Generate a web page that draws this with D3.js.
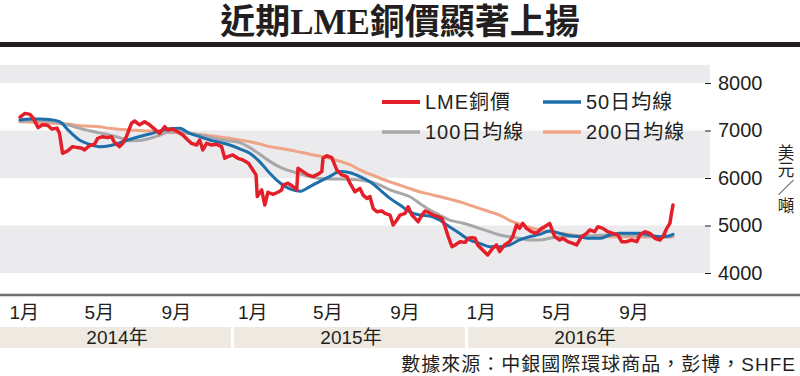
<!DOCTYPE html>
<html>
<head>
<meta charset="utf-8">
<script src="https://cdn.jsdelivr.net/npm/d3@7"></script>
<style>
  body { margin: 0; background: #fff; }
  svg { display: block; }
  text { font-family: "Liberation Sans", "Noto Sans CJK TC", sans-serif; fill: #231f20; }
</style>
</head>
<body>
<svg id="drawing_region"></svg>
<script>
// LME 銅價 (美元/噸) 讀自原圖
const priceDates = [
  "2014-01-02","2014-01-10","2014-01-18","2014-01-23","2014-01-31","2014-02-07","2014-02-15","2014-02-22",
  "2014-03-02","2014-03-06","2014-03-11","2014-03-19","2014-03-27","2014-04-04","2014-04-11","2014-04-15",
  "2014-04-23","2014-05-01","2014-05-06","2014-05-14","2014-05-22","2014-05-28","2014-06-02","2014-06-10",
  "2014-06-15","2014-06-21","2014-06-29","2014-07-04","2014-07-12","2014-07-20","2014-07-28","2014-08-05",
  "2014-08-13","2014-08-21","2014-08-26","2014-09-03","2014-09-11","2014-09-19","2014-09-27","2014-10-03",
  "2014-10-11","2014-10-16","2014-10-21","2014-10-27","2014-11-04","2014-11-12","2014-11-20","2014-11-25",
  "2014-11-30","2014-12-08","2014-12-16","2014-12-24","2015-01-02","2015-01-09","2015-01-14","2015-01-16",
  "2015-01-23","2015-01-28","2015-02-02","2015-02-10","2015-02-18","2015-02-24","2015-02-26","2015-03-06",
  "2015-03-14","2015-03-20","2015-03-22","2015-03-30","2015-04-07","2015-04-15","2015-04-23","2015-04-29",
  "2015-05-01","2015-05-07","2015-05-15","2015-05-23","2015-05-31","2015-06-08","2015-06-13","2015-06-21",
  "2015-06-29","2015-07-04","2015-07-10","2015-07-15","2015-07-20","2015-07-26","2015-08-03","2015-08-08",
  "2015-08-16","2015-08-21","2015-08-27","2015-09-01","2015-09-09","2015-09-14","2015-09-20","2015-09-25",
  "2015-09-30","2015-10-06","2015-10-11","2015-10-16","2015-10-24","2015-11-01","2015-11-07","2015-11-12",
  "2015-11-17","2015-11-23","2015-11-28","2015-12-06","2015-12-14","2015-12-19","2015-12-25","2015-12-30",
  "2016-01-03","2016-01-11","2016-01-19","2016-01-27","2016-02-02","2016-02-07","2016-02-15","2016-02-23",
  "2016-02-28","2016-03-05","2016-03-10","2016-03-15","2016-03-21","2016-03-29","2016-04-06","2016-04-14",
  "2016-04-19","2016-04-27","2016-05-05","2016-05-13","2016-05-18","2016-05-26","2016-06-03","2016-06-09",
  "2016-06-17","2016-06-25","2016-06-30","2016-07-08","2016-07-13","2016-07-21","2016-07-29","2016-08-06",
  "2016-08-14","2016-08-20","2016-08-28","2016-09-05","2016-09-13","2016-09-18","2016-09-26","2016-10-04",
  "2016-10-12","2016-10-20","2016-10-25","2016-10-31","2016-11-05","2016-11-08","2016-11-10"
];
const priceValues = [
  7280,7360,7340,7260,7060,7120,7110,7030,
  7050,6940,6520,6570,6660,6640,6625,6590,
  6680,6710,6835,6870,6850,6870,6750,6660,
  6730,6870,7150,7200,7120,7185,7120,7030,
  6940,7080,7010,7030,6975,6905,6800,6730,
  6695,6800,6590,6730,6695,6710,6660,6415,
  6450,6485,6415,6380,6310,6170,6065,5610,
  5750,5430,5700,5655,5700,5750,5850,5890,
  5820,5750,6205,6135,6065,6030,6080,6135,
  6415,6470,6430,6170,6065,6030,5890,5710,
  5780,5640,5570,5610,5360,5290,5305,5255,
  5220,5010,5115,5220,5255,5395,5220,5150,
  5080,5220,5305,5280,5220,5185,5150,4975,
  4765,4555,4590,4660,4645,4730,4745,4730,
  4590,4485,4380,4520,4590,4450,4590,4660,
  4765,5010,4940,5045,4940,4870,4835,4940,
  4975,5045,4765,4695,4730,4660,4625,4590,
  4765,4835,4905,4870,4975,4940,4870,4835,
  4800,4660,4660,4695,4660,4800,4870,4835,
  4730,4695,4765,4940,5045,5290,5430
];

// 均線 (半月取樣)
const maDates = [
  "2014-01-02","2014-01-18","2014-02-03","2014-02-18","2014-03-06","2014-03-22","2014-04-07","2014-04-23",
  "2014-05-09","2014-05-25","2014-06-10","2014-06-26","2014-07-12","2014-07-28","2014-08-13","2014-08-29",
  "2014-09-14","2014-09-30","2014-10-16","2014-11-01","2014-11-17","2014-12-03","2014-12-19",
  "2015-01-04","2015-01-20","2015-02-05","2015-02-21","2015-03-09","2015-03-25","2015-04-10","2015-04-26",
  "2015-05-12","2015-05-28","2015-06-13","2015-06-29","2015-07-15","2015-07-31","2015-08-16","2015-09-01",
  "2015-09-16","2015-10-02","2015-10-18","2015-11-03","2015-11-19","2015-12-05","2015-12-21",
  "2016-01-06","2016-01-22","2016-02-07","2016-02-23","2016-03-10","2016-03-26","2016-04-11","2016-04-27",
  "2016-05-13","2016-05-29","2016-06-14","2016-06-30","2016-07-16","2016-08-01","2016-08-17","2016-09-02",
  "2016-09-18","2016-10-04","2016-10-20","2016-11-05","2016-11-10"
];
const ma50 = [
  7220,7240,7240,7230,7185,6980,6800,6710,6660,6680,6740,6810,6875,6925,6990,7035,7045,6940,6870,6800,6750,6695,6615,
  6520,6340,6100,5900,5770,5720,5820,5930,6035,6135,6110,6030,5920,5750,5570,5430,5290,5220,5200,5115,4975,4835,4695,
  4625,4555,4555,4590,4695,4765,4815,4885,4835,4785,4765,4730,4730,4800,4835,4835,4835,4800,4765,4785,4815
];
const ma100 = [
  7200,7210,7215,7190,7160,7110,7045,6995,6950,6905,6850,6785,6790,6830,6900,6975,6975,6940,6905,6860,6810,6780,6745,
  6640,6500,6350,6230,6150,6090,6030,5990,5980,5980,5970,5960,5920,5850,5750,5680,5610,5470,5330,5220,5115,5065,5010,
  4940,4870,4800,4765,4730,4695,4695,4730,4765,4775,4780,4785,4795,4800,4800,4795,4785,4775,4765,4765,4785
];
const ma200 = [
  7185,7180,7168,7157,7145,7130,7100,7090,7078,7045,7028,7010,7000,6990,6975,6960,6950,6940,6915,6890,6865,6835,6800,
  6765,6715,6660,6625,6590,6545,6500,6460,6415,6350,6280,6170,6080,5995,5920,5850,5780,5710,5660,5610,5555,5500,5430,
  5360,5290,5220,5110,5030,4960,4905,4870,4835,4810,4785,4775,4765,4765,4765,4762,4760,4758,4755,4760,4765
];

const yTicks = [4000, 5000, 6000, 7000, 8000];
const monthTickDates = ["2014-01-08","2014-05-08","2014-09-08","2015-01-08","2015-05-08","2015-09-08","2016-01-08","2016-05-08","2016-09-08"];
const monthLabels = ["1月","5月","9月","1月","5月","9月","1月","5月","9月"];
const yearLabels = ["2014年","2015年","2016年"];
const seriesNames = ["LME銅價","50日均線","100日均線","200日均線"];
const seriesColors = ["#e3202a","#1d6fac","#a8a8aa","#efa487"];
const unitChars = ["美", "元", "／", "噸"];

const W = 800, H = 376;
const parse = d3.timeParse("%Y-%m-%d");

const svg = d3.select("#drawing_region")
  .attr("width", W)
  .attr("height", H);

svg.append("rect").attr("width", W).attr("height", H).attr("fill", "#fff");

// title
svg.append("text")
  .attr("x", W / 2)
  .attr("y", 34)
  .attr("text-anchor", "middle")
  .attr("font-size", "35px")
  .attr("font-weight", "bold")
  .style("font-family", "'Liberation Serif', 'Noto Sans CJK TC', serif")
  .text("近期LME銅價顯著上揚");

svg.append("rect")
  .attr("x", 0).attr("y", 42)
  .attr("width", W).attr("height", 5)
  .attr("fill", "#231f20");

// scales
const xscale = d3.scaleTime()
  .domain([parse("2014-01-02"), parse("2016-11-10")])
  .range([20, 673]);

const yscale = d3.scaleLinear()
  .domain([4000, 8000])
  .range([273, 83]);

const plotRight = 710;

// grey bands
const bands = [[4000, 5000], [6000, 7000], [8000, 8380]];
svg.append("g").selectAll("rect")
  .data(bands)
  .join("rect")
  .attr("x", 0)
  .attr("width", plotRight)
  .attr("y", d => yscale(d[1]))
  .attr("height", d => yscale(d[0]) - yscale(d[1]))
  .attr("fill", "#ebebed");

// lines
const priceData = priceDates.map((d, i) => ({date: parse(d), value: priceValues[i]}));
const maData = [ma200, ma100, ma50].map(arr => maDates.map((d, i) => ({date: parse(d), value: arr[i]})));

const smoothLine = d3.line()
  .x(d => xscale(d.date))
  .y(d => yscale(d.value))
  .curve(d3.curveMonotoneX);

const rawLine = d3.line()
  .x(d => xscale(d.date))
  .y(d => yscale(d.value));

const lines = svg.append("g").attr("fill", "none").attr("stroke-linejoin", "round").attr("stroke-linecap", "round");

lines.append("path").attr("d", smoothLine(maData[0])).attr("stroke", seriesColors[3]).attr("stroke-width", 3);
lines.append("path").attr("d", smoothLine(maData[1])).attr("stroke", seriesColors[2]).attr("stroke-width", 3);
lines.append("path").attr("d", smoothLine(maData[2])).attr("stroke", seriesColors[1]).attr("stroke-width", 3);
lines.append("path").attr("d", rawLine(priceData)).attr("stroke", seriesColors[0]).attr("stroke-width", 3.5);

// legend
const legendPos = [[382, 102], [543, 102], [382, 132], [543, 132]];
const legend = svg.append("g").selectAll("g")
  .data(seriesNames)
  .join("g")
  .attr("transform", (d, i) => `translate(${legendPos[i][0]}, ${legendPos[i][1]})`);

legend.append("line")
  .attr("x1", 0).attr("x2", 38)
  .attr("stroke", (d, i) => seriesColors[i])
  .attr("stroke-width", (d, i) => i === 0 ? 4 : 3.5);

legend.append("text")
  .attr("x", 43)
  .attr("y", 7)
  .attr("font-size", "20px")
  .attr("letter-spacing", "1px")
  .text(d => d);

// y axis
const yaxis = d3.axisRight(yscale)
  .tickValues(yTicks)
  .tickSize(6)
  .tickPadding(7)
  .tickFormat(d3.format("d"));

const yaxisGroup = svg.append("g")
  .attr("transform", `translate(705, 0)`)
  .call(yaxis);
yaxisGroup.select(".domain").remove();
yaxisGroup.selectAll("line").attr("stroke", "#231f20");
yaxisGroup.selectAll("text")
  .attr("font-size", "20px")
  .style("font-family", "'Liberation Sans', sans-serif")
  .attr("fill", "#231f20");

// unit label, stacked vertically
svg.append("g").selectAll("text")
  .data(unitChars)
  .join("text")
  .attr("x", 786)
  .attr("y", (d, i) => [159, 176, 194, 212][i])
  .attr("text-anchor", "middle")
  .attr("font-size", "16.5px")
  .text(d => d);

// bottom axis line
svg.append("line")
  .attr("x1", 0).attr("x2", W)
  .attr("y1", 295).attr("y2", 295)
  .attr("stroke", "#6d6e71")
  .attr("stroke-width", 2.5);

// month labels
const xaxis = d3.axisBottom(xscale)
  .tickValues(monthTickDates.map(parse))
  .tickSize(0)
  .tickPadding(11)
  .tickFormat((d, i) => monthLabels[i]);

const xaxisGroup = svg.append("g")
  .attr("transform", "translate(0, 295)")
  .call(xaxis);
xaxisGroup.select(".domain").remove();
xaxisGroup.selectAll("text")
  .attr("font-size", "19px")
  .style("font-family", "'Liberation Sans', 'Noto Sans CJK TC', sans-serif")
  .attr("fill", "#231f20");

// year band
const yearScale = d3.scaleBand()
  .domain(yearLabels)
  .range([0, 702]);

const yearGroup = svg.append("g");
yearGroup.selectAll("rect")
  .data(yearLabels)
  .join("rect")
  .attr("x", d => yearScale(d))
  .attr("y", 327)
  .attr("width", (d, i) => i === yearLabels.length - 1 ? W - yearScale(d) : yearScale.bandwidth() - 3)
  .attr("height", 21)
  .attr("fill", "#eeeae2");

yearGroup.selectAll("text")
  .data(yearLabels)
  .join("text")
  .attr("x", d => yearScale(d) + yearScale.bandwidth() / 2)
  .attr("y", 344)
  .attr("text-anchor", "middle")
  .attr("font-size", "19px")
  .text(d => d);

// source
svg.append("text")
  .attr("x", 796)
  .attr("y", 371)
  .attr("text-anchor", "end")
  .attr("font-size", "19px")
  .attr("letter-spacing", "1px")
  .text("數據來源：中銀國際環球商品，彭博，SHFE");
</script>
</body>
</html>
